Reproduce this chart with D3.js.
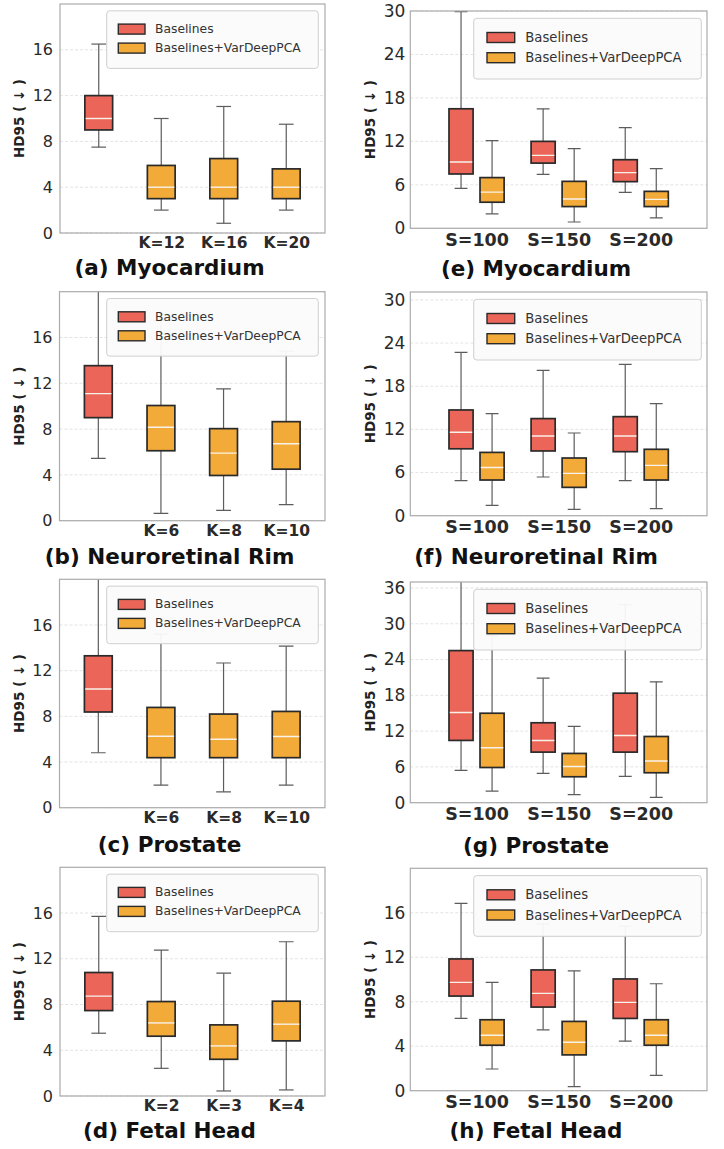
<!DOCTYPE html>
<html><head><meta charset="utf-8">
<script src="https://cdn.jsdelivr.net/npm/d3@7"></script>
<style>html,body{margin:0;padding:0;background:#fff;}svg{display:block;}</style>
</head><body>
<svg id="chart" width="724" height="1149"></svg>
<script>
// ---------- DATA (each box: [lowWhisker, Q1, median, Q3, highWhisker]) ----------
const legendLabels = ["Baselines", "Baselines+VarDeepPCA"];

// (a) Myocardium, varying K
const myoK_cats = ["Baselines", "K=12", "K=16", "K=20"];
const myoK_stats = [[7.5, 9.0, 10.0, 12.0, 16.5], [2.0, 3.0, 4.0, 5.9, 10.0], [0.85, 3.0, 4.0, 6.5, 11.05], [2.0, 3.0, 4.0, 5.6, 9.5]];
// (b) Neuroretinal Rim, varying K
const nrK_cats = ["Baselines", "K=6", "K=8", "K=10"];
const nrK_stats = [[5.44, 9.0, 11.1, 13.54, 22.5], [0.64, 6.11, 8.16, 10.06, 17.5], [0.9, 3.95, 5.9, 8.04, 11.52], [1.4, 4.5, 6.72, 8.65, 14.8]];
// (c) Prostate, varying K
const prK_cats = ["Baselines", "K=6", "K=8", "K=10"];
const prK_stats = [[4.81, 8.38, 10.4, 13.3, 24.0], [1.97, 4.38, 6.26, 8.78, 15.2], [1.39, 4.38, 6.0, 8.2, 12.67], [1.97, 4.38, 6.23, 8.43, 14.14]];
// (d) Fetal Head, varying K
const fhK_cats = ["Baselines", "K=2", "K=3", "K=4"];
const fhK_stats = [[5.49, 7.47, 8.73, 10.8, 15.7], [2.42, 5.23, 6.39, 8.26, 12.76], [0.44, 3.21, 4.38, 6.22, 10.74], [0.53, 4.82, 6.28, 8.29, 13.49]];

// (e)-(h) varying S
const sGroups = ["S=100", "S=150", "S=200"];
const myoS_base = [[5.5, 7.5, 9.15, 16.5, 29.9], [7.45, 9.0, 10.07, 12.0, 16.5], [4.97, 6.44, 7.68, 9.47, 13.9]];
const myoS_var  = [[2.0, 3.6, 5.0, 7.0, 12.1], [0.87, 3.0, 4.05, 6.48, 11.0], [1.43, 3.0, 4.0, 5.1, 8.23]];
const nrS_base  = [[4.87, 9.3, 11.6, 14.7, 22.7], [5.38, 9.0, 11.08, 13.5, 20.2], [4.87, 8.9, 11.08, 13.77, 21.05]];
const nrS_var   = [[1.44, 4.96, 6.7, 8.8, 14.2], [0.88, 3.94, 5.89, 8.02, 11.5], [0.97, 4.96, 7.0, 9.23, 15.58]];
const prS_base  = [[5.41, 10.44, 15.12, 25.5, 40.0], [4.91, 8.48, 10.44, 13.4, 20.87], [4.41, 8.48, 11.27, 18.36, 33.2]];
const prS_var   = [[1.95, 5.9, 9.2, 15.0, 28.0], [1.34, 4.35, 6.08, 8.26, 12.78], [0.89, 5.02, 6.98, 11.1, 20.26]];
const fhS_base  = [[6.5, 8.51, 9.74, 11.85, 16.84], [5.47, 7.52, 8.75, 10.86, 15.0], [4.45, 6.5, 7.94, 10.05, 14.8]];
const fhS_var   = [[1.95, 4.09, 4.99, 6.38, 9.74], [0.36, 3.22, 4.36, 6.23, 10.77], [1.38, 4.09, 4.99, 6.38, 9.62]];

// tick values
const ticksK = [0, 4, 8, 12, 16];
const ticks30 = [0, 6, 12, 18, 24, 30];
const ticks36 = [0, 6, 12, 18, 24, 30, 36];
const ticks16 = [0, 4, 8, 12, 16];

// ---------- STYLE ----------
const RED = "#EB6659", ORANGE = "#F2AA38";
const FONT = "DejaVu Sans, sans-serif";
const svg = d3.select("#chart");

// ---------- PANELS (layout) ----------
const leftPanels = [
  {id: "a", title: "(a) Myocardium", cats: myoK_cats, stats: myoK_stats, ticks: ticksK, ymax: 20, f: [60, 325, 4, 233], tb: 275},
  {id: "b", title: "(b) Neuroretinal Rim", cats: nrK_cats, stats: nrK_stats, ticks: ticksK, ymax: 20, f: [59.5, 325, 291.7, 520.7], tb: 564},
  {id: "c", title: "(c) Prostate", cats: prK_cats, stats: prK_stats, ticks: ticksK, ymax: 20, f: [59.5, 325, 579.3, 807.7], tb: 852},
  {id: "d", title: "(d) Fetal Head", cats: fhK_cats, stats: fhK_stats, ticks: ticksK, ymax: 20, f: [60, 325, 867.3, 1096], tb: 1138}
];
const rightPanels = [
  {id: "e", title: "(e) Myocardium", base: myoS_base, vr: myoS_var, ticks: ticks30, ymax: 30, f: [410.3, 707, 11, 228.3], tb: 276},
  {id: "f", title: "(f) Neuroretinal Rim", base: nrS_base, vr: nrS_var, ticks: ticks30, ymax: 31.1, f: [410.3, 707, 292, 515.7], tb: 563.5},
  {id: "g", title: "(g) Prostate", base: prS_base, vr: prS_var, ticks: ticks36, ymax: 37, f: [410.3, 707, 582, 802.7], tb: 852.5},
  {id: "h", title: "(h) Fetal Head", base: fhS_base, vr: fhS_var, ticks: ticks16, ymax: 20, f: [410.3, 707, 868.3, 1090.7], tb: 1138}
];

function frameAndAxes(p, tickFont, ylabX) {
  const [l, r, t, b] = p.f;
  const y = d3.scaleLinear().domain([0, p.ymax]).range([b, t]);
  const g = svg.append("g");
  g.selectAll("line.grid").data(p.ticks).join("line")
    .attr("x1", l).attr("x2", r).attr("y1", d => y(d)).attr("y2", d => y(d))
    .attr("stroke", "#dcdcdc").attr("stroke-width", 0.8).attr("stroke-dasharray", "3,2");
  const ax = g.append("g").attr("transform", `translate(${l},0)`)
    .call(d3.axisLeft(y).tickValues(p.ticks).tickSize(0).tickPadding(tickFont > 16 ? 5 : 7).tickFormat(d3.format("d")));
  ax.select(".domain").remove();
  ax.selectAll("text").attr("font-family", FONT).attr("font-size", tickFont).attr("fill", "#2a2a2a");
  g.append("text").attr("transform", `translate(${ylabX},${(t + b) / 2}) rotate(-90)`)
    .attr("text-anchor", "middle").attr("dominant-baseline", "middle")
    .attr("font-family", FONT).attr("font-weight", "bold").attr("font-size", 13.5).attr("fill", "#222")
    .text("HD95 ( \u2193 )");
  svg.append("clipPath").attr("id", "clip" + p.id).append("rect")
    .attr("x", l).attr("y", t).attr("width", r - l).attr("height", b - t);
  return y;
}

function drawBox(g, cx, w, s, y, color) {
  const [lo, q1, med, q3, hi] = s;
  const cw = w / 2;
  const wk = "#5c5c5c";
  g.append("line").attr("x1", cx).attr("x2", cx).attr("y1", y(q3)).attr("y2", y(hi)).attr("stroke", wk).attr("stroke-width", 1.2);
  g.append("line").attr("x1", cx).attr("x2", cx).attr("y1", y(q1)).attr("y2", y(lo)).attr("stroke", wk).attr("stroke-width", 1.2);
  g.append("line").attr("x1", cx - cw / 2).attr("x2", cx + cw / 2).attr("y1", y(hi)).attr("y2", y(hi)).attr("stroke", wk).attr("stroke-width", 1.2);
  g.append("line").attr("x1", cx - cw / 2).attr("x2", cx + cw / 2).attr("y1", y(lo)).attr("y2", y(lo)).attr("stroke", wk).attr("stroke-width", 1.2);
  g.append("rect").attr("x", cx - w / 2 + 0.8).attr("y", y(q3)).attr("width", w - 1.6).attr("height", y(q1) - y(q3))
    .attr("fill", color).attr("stroke", "#2a2a2a").attr("stroke-width", 1.7);
  g.append("line").attr("x1", cx - w / 2 + 1.6).attr("x2", cx + w / 2 - 1.6).attr("y1", y(med)).attr("y2", y(med))
    .attr("stroke", "#f8f3ea").attr("stroke-width", 1.4);
}

function drawSpines(p) {
  const [l, r, t, b] = p.f;
  svg.append("rect").attr("x", l).attr("y", t).attr("width", r - l).attr("height", b - t)
    .attr("fill", "none").attr("stroke", "#ababab").attr("stroke-width", 1.2);
}

function drawLegend(x0, y0, w, h, patchX, patchW, rowY, textX, fs) {
  const g = svg.append("g");
  g.append("rect").attr("x", x0).attr("y", y0).attr("width", w).attr("height", h).attr("rx", 3)
    .attr("fill", "#fbfbfb").attr("fill-opacity", 0.95).attr("stroke", "#cfcfcf").attr("stroke-width", 1);
  [RED, ORANGE].forEach((c, i) => {
    const cy = y0 + rowY[i];
    g.append("rect").attr("x", patchX).attr("y", cy - 5).attr("width", patchW).attr("height", 10)
      .attr("fill", c).attr("stroke", "#2a2a2a").attr("stroke-width", 1.4);
    g.append("text").attr("x", textX).attr("y", cy).attr("dominant-baseline", "central")
      .attr("font-family", FONT).attr("font-size", fs).attr("fill", "#333").text(legendLabels[i]);
  });
}

function title(p, cx) {
  svg.append("text").attr("x", cx).attr("y", p.tb).attr("text-anchor", "middle")
    .attr("font-family", FONT).attr("font-weight", "bold").attr("font-size", 21.5).attr("fill", "#111").text(p.title);
}

// ---------- LEFT COLUMN ----------
leftPanels.forEach(p => {
  const [l, r, t, b] = p.f;
  const y = frameAndAxes(p, 16, 20);
  const x = d3.scalePoint().domain(p.cats).range([l, r]).padding(0.62);
  const w = x.step() * 0.47;
  const g = svg.append("g").attr("clip-path", `url(#clip${p.id})`);
  p.stats.forEach((s, i) => drawBox(g, x(p.cats[i]), w, s, y, i === 0 ? RED : ORANGE));
  drawSpines(p);
  const xa = svg.append("g").attr("transform", `translate(0,${b})`)
    .call(d3.axisBottom(x).tickSize(0).tickPadding(4).tickFormat(d => d === "Baselines" ? "" : d));
  xa.select(".domain").remove();
  xa.selectAll("text").attr("font-family", FONT).attr("font-weight", "bold").attr("font-size", 15.5).attr("fill", "#2a2a2a");
  drawLegend(106.7, t + 6.8, 211.6, 57.6, 118.3, 26.7, [18.3, 37.3], 155, 12.3);
  title(p, 169.5);
});

// ---------- RIGHT COLUMN ----------
rightPanels.forEach(p => {
  const [l, r, t, b] = p.f;
  const y = frameAndAxes(p, 17, 371);
  const x = d3.scalePoint().domain(sGroups).range([l, r]).padding(0.807);
  const off = x.step() * 0.189, w = x.step() * 0.313;
  const g = svg.append("g").attr("clip-path", `url(#clip${p.id})`);
  sGroups.forEach((gr, i) => {
    drawBox(g, x(gr) - off, w, p.base[i], y, RED);
    drawBox(g, x(gr) + off, w, p.vr[i], y, ORANGE);
  });
  drawSpines(p);
  const xa = svg.append("g").attr("transform", `translate(0,${b})`)
    .call(d3.axisBottom(x).tickSize(0).tickPadding(5));
  xa.select(".domain").remove();
  xa.selectAll("text").attr("font-family", FONT).attr("font-weight", "bold").attr("font-size", 17.5).attr("fill", "#2a2a2a");
  drawLegend(473.7, t + 7.3, 227.6, 60.7, 487, 27.7, [19.2, 39.4], 525.3, 13.2);
  title(p, 536);
});
</script>
</body></html>
